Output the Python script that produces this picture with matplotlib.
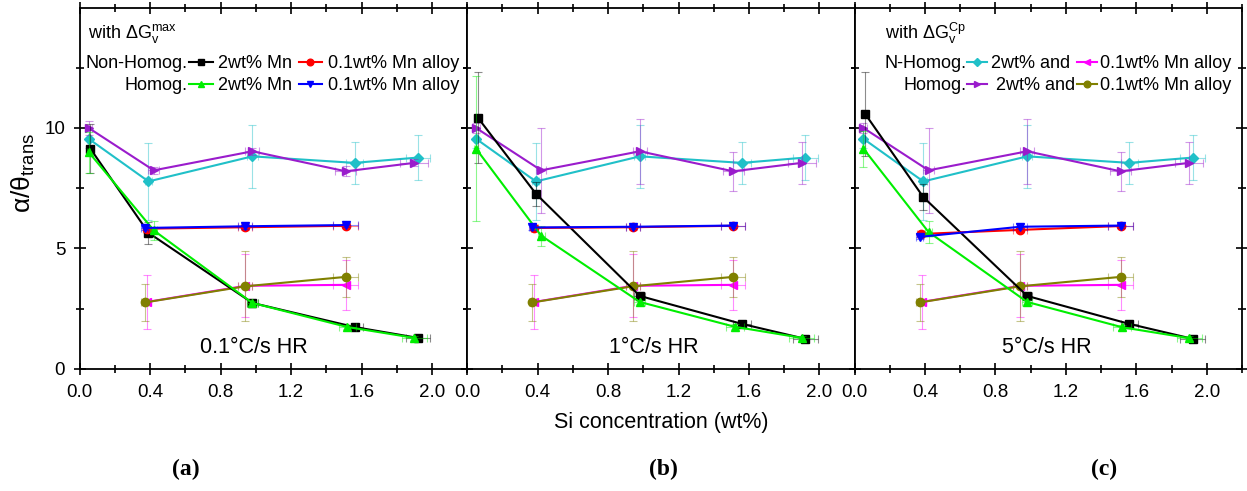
import matplotlib.pyplot as plt
from matplotlib.ticker import MultipleLocator

plt.rcParams['font.family'] = ['Liberation Sans', 'DejaVu Sans']
plt.rcParams['mathtext.fontset'] = 'custom'
plt.rcParams['mathtext.rm'] = 'Liberation Sans'
plt.rcParams['mathtext.it'] = 'Liberation Sans:italic'

# heating rate of each panel
panel_titles = ["0.1°C/s HR", "1°C/s HR", "5°C/s HR"]
panel_tags = ["(a)", "(b)", "(c)"]
title_x = [0.99, 1.06, 1.09]

# 2wt% Mn, five Si levels (one list per panel)
black_x = [0.06, 0.39, 0.98, 1.56, 1.92]
black_y = [[9.14, 5.65, 2.74, 1.74, 1.29],
           [10.43, 7.27, 3.03, 1.87, 1.25],
           [10.58, 7.13, 3.03, 1.87, 1.25]]
black_yerr = [[1.03, 0.45, 0.15, 0.1, 0.08],
              [1.9, 0.5, 0.15, 0.1, 0.08],
              [1.75, 0.55, 0.15, 0.1, 0.08]]
green_x = [0.05, 0.42, 0.98, 1.52, 1.90]
green_y = [[9.0, 5.75, 2.74, 1.74, 1.29],
           [9.14, 5.53, 2.78, 1.75, 1.29],
           [9.14, 5.68, 2.78, 1.73, 1.28]]
green_yerr = [[0.85, 0.4, 0.1, 0.1, 0.08],
              [3.0, 0.42, 0.1, 0.1, 0.08],
              [0.75, 0.45, 0.1, 0.1, 0.08]]
big_xerr = [0.01, 0.02, 0.03, 0.05, 0.07]

# 0.1wt% Mn alloy, three Si levels
red_x = [[0.38, 0.94, 1.51], [0.38, 0.94, 1.51], [0.375, 0.94, 1.51]]
red_y = [[5.82, 5.88, 5.94], [5.85, 5.88, 5.94], [5.6, 5.77, 5.93]]
blue_x = [[0.37, 0.94, 1.51], [0.37, 0.94, 1.51], [0.37, 0.94, 1.51]]
blue_y = [[5.85, 5.92, 5.97], [5.87, 5.9, 5.95], [5.48, 5.9, 5.95]]
small_yerr = [0.1, 0.1, 0.1]
small_xerr = [0.02, 0.04, 0.07]

# with dG_v^Cp (same in all panels)
cyan_x = [0.05, 0.39, 0.98, 1.56, 1.92]
cyan_y = [9.55, 7.78, 8.82, 8.55, 8.77]
cyan_yerr = [0.4, 1.6, 1.3, 0.88, 0.93]
purple_x = [0.05, 0.42, 0.98, 1.51, 1.90]
purple_y = [10.0, 8.24, 9.03, 8.2, 8.55]
purple_yerr = [[0.3, 0.15, 0.15, 0.2, 0.15],
               [0.2, 1.75, 1.35, 0.82, 0.88],
               [0.2, 1.75, 1.35, 0.82, 0.88]]
purple_xerr = [0.02, 0.03, 0.04, 0.06, 0.08]
magenta_x = [0.38, 0.94, 1.51]
magenta_y = [2.78, 3.45, 3.49]
magenta_yerr = [1.13, 1.3, 1.04]
olive_x = [0.37, 0.94, 1.51]
olive_y = [2.76, 3.43, 3.82]
olive_yerr = [0.77, 1.45, 0.83]


def series(ax, x, y, yerr, xerr, color, marker, ms=6, label=None):
    ax.errorbar(x, y, yerr=yerr, xerr=xerr, fmt='none', ecolor=color,
                elinewidth=0.8, capsize=3, capthick=0.8, alpha=0.45)
    line, = ax.plot(x, y, color=color, marker=marker, ms=ms, lw=1.5, label=label)
    return line


fig = plt.figure(figsize=(12.47, 4.91), dpi=100)
axes = fig.subplots(1, 3, sharey=True)
fig.subplots_adjust(left=0.064, right=0.996, top=0.984, bottom=0.2485, wspace=0)

C_CYAN, C_PURPLE = '#20c0c8', '#9a1ccc'
C_MAG, C_OLIVE = '#ff00ff', '#808000'
C_GREEN = '#00ee00'
FS_LEG = 13

for i, ax in enumerate(axes):
    hc = series(ax, cyan_x, cyan_y, cyan_yerr, big_xerr, C_CYAN, 'D', ms=5.5)
    hp = series(ax, purple_x, purple_y, purple_yerr[i], purple_xerr, C_PURPLE, '>')
    hm = series(ax, magenta_x, magenta_y, magenta_yerr, small_xerr, C_MAG, '<')
    ho = series(ax, olive_x, olive_y, olive_yerr, small_xerr, C_OLIVE, 'o')
    hk = series(ax, black_x, black_y[i], black_yerr[i], big_xerr, 'black', 's', ms=5.5)
    hr = series(ax, red_x[i], red_y[i], small_yerr, small_xerr, 'red', 'o')
    hg = series(ax, green_x, green_y[i], green_yerr[i], big_xerr, C_GREEN, '^')
    hb = series(ax, blue_x[i], blue_y[i], small_yerr, small_xerr, 'blue', 'v')

    ax.set_xlim(0, 2.2)
    ax.set_ylim(0, 14.98)
    ax.set_xticks([0.0, 0.4, 0.8, 1.2, 1.6, 2.0])
    ax.xaxis.set_minor_locator(MultipleLocator(0.2))
    ax.yaxis.set_major_locator(MultipleLocator(5))
    ax.yaxis.set_minor_locator(MultipleLocator(2.5))
    ax.tick_params(which='both', direction='inout', top=True, right=True,
                   labelsize=13.5, width=1.2)
    ax.tick_params(which='major', length=9, pad=6)
    ax.tick_params(which='minor', length=6)
    for s in ax.spines.values():
        s.set_linewidth(1.3)
    ax.text(title_x[i], 0.9, panel_titles[i], ha='center', va='center', fontsize=15.5)

    if i == 0:
        ax.text(0.02, 0.93, r'with ΔG$_{\mathrm{v}}^{\mathrm{max}}$', transform=ax.transAxes,
                fontsize=FS_LEG, va='center')
        ax.text(0.279, 0.845, 'Non-Homog.', transform=ax.transAxes, fontsize=FS_LEG,
                ha='right', va='center')
        ax.text(0.279, 0.784, 'Homog.', transform=ax.transAxes, fontsize=FS_LEG,
                ha='right', va='center')
        ax.legend([hk, hg, hr, hb], ['2wt% Mn', '2wt% Mn', '0.1wt% Mn alloy', '0.1wt% Mn alloy'],
                  ncol=2, frameon=False, loc='center left', bbox_to_anchor=(0.283, 0.815),
                  borderpad=0, borderaxespad=0, fontsize=FS_LEG, handlelength=1.3,
                  handletextpad=0.3, columnspacing=0.35, labelspacing=0.3, markerscale=0.8)
    if i == 2:
        ax.text(0.078, 0.93, r'with ΔG$_{\mathrm{v}}^{\mathrm{Cp}}$', transform=ax.transAxes,
                fontsize=FS_LEG, va='center')
        ax.text(0.288, 0.845, 'N-Homog.', transform=ax.transAxes, fontsize=FS_LEG,
                ha='right', va='center')
        ax.text(0.288, 0.784, 'Homog.', transform=ax.transAxes, fontsize=FS_LEG,
                ha='right', va='center')
        ax.legend([hc, hp, hm, ho], ['2wt% and', ' 2wt% and', '0.1wt% Mn alloy', '0.1wt% Mn alloy'],
                  ncol=2, frameon=False, loc='center left', bbox_to_anchor=(0.291, 0.815),
                  borderpad=0, borderaxespad=0, fontsize=FS_LEG, handlelength=1.1,
                  handletextpad=0.2, columnspacing=0.1, labelspacing=0.3, markerscale=0.8)

fig.text(0.019, 0.647, r'α/θ$_{\mathrm{trans}}$', rotation=90, ha='center',
         va='center', fontsize=19)
fig.text(0.53, 0.14, 'Si concentration (wt%)', ha='center', va='center', fontsize=15.5)
for tag, xc in zip(panel_tags, [0.149, 0.532, 0.885]):
    fig.text(xc, 0.043, tag, ha='center', va='center', fontsize=17,
             family='Liberation Serif', weight='bold')

fig.savefig('out.png', dpi=100)
